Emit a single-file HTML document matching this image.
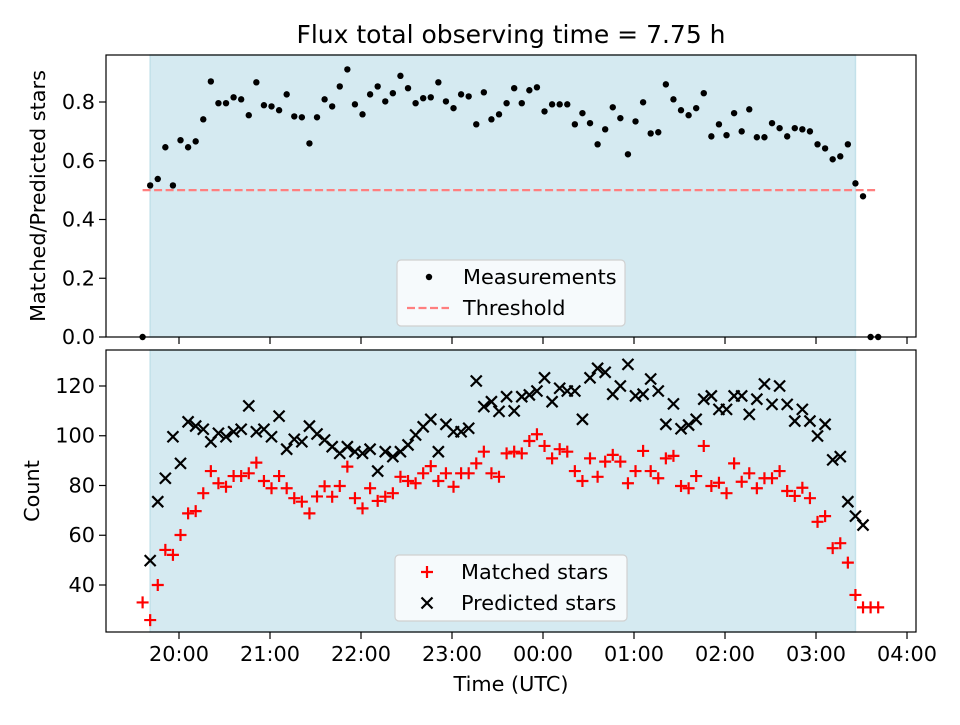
<!DOCTYPE html>
<html><head><meta charset="utf-8"><style>
body{margin:0;background:#fff}
svg text{font-family:"DejaVu Sans","Liberation Sans",sans-serif;fill:#000}
</style></head><body>
<svg id="chart" width="960" height="720" viewBox="0 0 960 720" xmlns="http://www.w3.org/2000/svg">
<text x="511" y="43" font-size="25" text-anchor="middle">Flux total observing time = 7.75 h</text>
<g id="topPanel"></g>
<g id="botPanel"></g>
<text x="511" y="691" font-size="20.8" text-anchor="middle">Time (UTC)</text>
<text transform="translate(45,196) rotate(-90)" font-size="20.8" text-anchor="middle">Matched/Predicted stars</text>
<text transform="translate(39,491) rotate(-90)" font-size="20.8" text-anchor="middle">Count</text>
</svg>
<script>
// time of sample i (minutes after 20:00) = startMin + i*stepMin
const startMin = -24;
const stepMin = 5;
const ratio = [0,0.516,0.538,0.646,0.516,0.670,0.646,0.666,0.741,0.870,0.796,0.796,0.816,0.809,0.755,0.867,0.789,0.785,0.772,0.826,0.751,0.748,0.659,0.748,0.809,0.785,0.853,0.911,0.792,0.758,0.826,0.853,0.802,0.830,0.889,
0.847,0.796,0.813,0.816,0.867,0.802,0.779,0.826,0.819,0.724,0.833,0.741,0.758,0.796,0.847,0.796,0.840,0.850,0.768,0.792,0.792,0.792,0.724,0.762,0.728,0.656,0.707,0.782,0.745,0.622,0.734,0.799,0.693,0.697,
0.860,0.809,0.772,0.755,0.779,0.830,0.683,0.724,0.687,0.762,0.700,0.775,0.680,0.680,0.728,0.711,0.683,0.711,0.707,0.700,0.656,0.642,0.605,0.615,0.656,0.523,0.479,0,0];
const matched = [33.0,25.9,40,54.1,52.1,60.1,68.8,69.7,76.9,85.8,80.9,79.5,83.8,83.8,84.9,89.2,81.8,78.9,83.8,78.9,74.9,73.5,68.8,75.6,79.7,75.5,79.8,87.6,74.9,70.8,78.9,73.8,75.5,76.9,83.5,81.8,80.9,84.9,87.8,81.8,84.9,79.5,84.9,84.9,88.9,93.6,84.9,83.5,92.9,93.6,92.9,97.9,100.6,95.9,90.9,94.6,93.6,85.8,81.8,90.9,83.5,89.6,92.3,89.6,80.9,85.8,93.9,85.8,82.9,90.9,91.9,79.8,78.9,83.8,95.9,79.8,81.1,76.9,88.9,81.5,84.9,78.9,82.9,82.9,85.8,77.8,75.8,79.1,74.9,65.4,67.7,54.8,56.8,49.0,36.0,31.0,31.0,31.0];
const predicted = [null,49.8,73.5,82.9,99.6,88.9,105.6,103.9,102.6,97.6,101.0,99.6,101.6,102.6,112.0,101.6,102.6,99.6,107.9,94.6,98.6,97.6,103.9,100.7,98.3,95.6,92.9,95.6,93.6,92.9,94.6,85.8,93.6,91.6,93.6,96.3,100.3,103.6,106.6,93.6,104.6,101.6,101.6,103.0,122.0,111.7,113.7,109.8,115.7,110.0,115.7,116.4,118.0,123.3,113.7,119.1,118.0,118.0,106.6,123.3,127.1,125.5,116.7,120.0,128.7,116.0,116.7,122.8,118.0,104.6,112.8,102.8,104.3,106.6,114.7,116.0,110.6,110.6,116.0,116.0,108.6,114.7,120.8,112.6,120.0,112.6,105.9,110.6,105.9,99.9,104.6,90.3,91.6,73.5,67.7,64.1];
const xTickLabels = ["20:00","21:00","22:00","23:00","00:00","01:00","02:00","03:00","04:00"];
const topYTicks = [0.0,0.2,0.4,0.6,0.8];
const botYTicks = [40,60,80,100,120];
const threshold = 0.5;
const shadeStartIdx = 1, shadeEndIdx = 94;

const NS="http://www.w3.org/2000/svg";
const L=106,R=916;
const xMin=-48.13,xMax=485.93;
const X=t=>L+(t-xMin)/(xMax-xMin)*(R-L);
const tOf=i=>startMin+i*stepMin;
const TT=55,TB=337,BT=350,BB=632;
const yTop=v=>TB-(v-0)/(0.96)*(TB-TT);
const yBot=v=>BB-(v-21.106)/(134.47-21.106)*(BB-BT);
function mk(p,tag,a){const e=document.createElementNS(NS,tag);for(const k in a)e.setAttribute(k,a[k]);p.appendChild(e);return e;}
const topG=document.getElementById('topPanel'),botG=document.getElementById('botPanel');

function panel(g,yT,yB,yf,ticks,fmt,labelX){
  const sh=mk(g,'rect',{x:X(tOf(shadeStartIdx)),y:yT,width:X(tOf(shadeEndIdx))-X(tOf(shadeStartIdx)),height:yB-yT,fill:'#d5eaf1',stroke:'#c3e1ea','stroke-width':1.5});
  
  
  xTickLabels.forEach((lab,k)=>{const x=X(k*60);
    const t=mk(g,'line',{x1:x,x2:x,y1:yB,y2:yB+7,stroke:'#000','stroke-width':1.2});
    
    
    if(labelX){const tx=mk(g,'text',{x:x,y:yB+29,'font-size':20.8,'text-anchor':'middle'});tx.textContent=lab;
      
      }
  });
  ticks.forEach(v=>{const y=yf(v);
    const t=mk(g,'line',{x1:L-7,x2:L,y1:y,y2:y,stroke:'#000','stroke-width':1.2});
    
    
    const tx=mk(g,'text',{x:L-11,y:y+7,'font-size':20.8,'text-anchor':'end'});tx.textContent=fmt(v);
    
    
  });
}
panel(topG,TT,TB,yTop,topYTicks,v=>v.toFixed(1),false);
panel(botG,BT,BB,yBot,botYTicks,v=>String(v),true);

const th=mk(topG,'line',{x1:X(tOf(0)),x2:X(tOf(ratio.length-1)),y1:yTop(threshold),y2:yTop(threshold),stroke:'#ff7f7f','stroke-width':2.2,'stroke-dasharray':'8 3.5'});


ratio.forEach((v,i)=>{const c=mk(topG,'circle',{cx:X(tOf(i)),cy:yTop(v),r:3.2,fill:'#000'});
  
  });
matched.forEach((v,i)=>{const x=X(tOf(i)),y=yBot(v),s=6;
  const p=mk(botG,'path',{d:`M${x-s},${y}H${x+s}M${x},${y-s}V${y+s}`,stroke:'#ff0000','stroke-width':2.2});
  
  });
predicted.forEach((v,i)=>{if(v==null)return;const x=X(tOf(i)),y=yBot(v),s=5.5;
  const p=mk(botG,'path',{d:`M${x-s},${y-s}L${x+s},${y+s}M${x-s},${y+s}L${x+s},${y-s}`,stroke:'#000','stroke-width':2.2});
  
  });

[[topG,TT,TB],[botG,BT,BB]].forEach(([g,a,b])=>{const f=mk(g,'rect',{x:L,y:a,width:R-L,height:b-a,fill:'none',stroke:'#000','stroke-width':1.2});
  
  });

function legend(g,x,y,w,h,items){
  const lg=mk(g,'g',{});
  
  
  mk(lg,'rect',{x:x,y:y,width:w,height:h,rx:4,fill:'#f6fafc',stroke:'#d0d0d0','stroke-width':1.2});
  items.forEach((it,k)=>{const cy=y+17+k*31,cx=x+32;
    const e=mk(lg,'g',{});
    
    
    it.draw(e,cx,cy);
    const t=mk(e,'text',{x:x+66,y:cy+7,'font-size':20.8});t.textContent=it.label;});
}
legend(topG,397,260,228,66,[
 {label:'Measurements',draw:(e,cx,cy)=>mk(e,'circle',{cx:cx,cy:cy,r:3.2,fill:'#000'})},
 {label:'Threshold',draw:(e,cx,cy)=>mk(e,'line',{x1:cx-22,x2:cx+20,y1:cy,y2:cy,stroke:'#ff7f7f','stroke-width':2.2,'stroke-dasharray':'8 3.5'})}]);
legend(botG,395,555,232,66,[
 {label:'Matched stars',draw:(e,cx,cy)=>mk(e,'path',{d:`M${cx-6},${cy}H${cx+6}M${cx},${cy-6}V${cy+6}`,stroke:'#ff0000','stroke-width':2.2})},
 {label:'Predicted stars',draw:(e,cx,cy)=>mk(e,'path',{d:`M${cx-5.5},${cy-5.5}L${cx+5.5},${cy+5.5}M${cx-5.5},${cy+5.5}L${cx+5.5},${cy-5.5}`,stroke:'#000','stroke-width':2.2})}]);
</script>
</body></html>
